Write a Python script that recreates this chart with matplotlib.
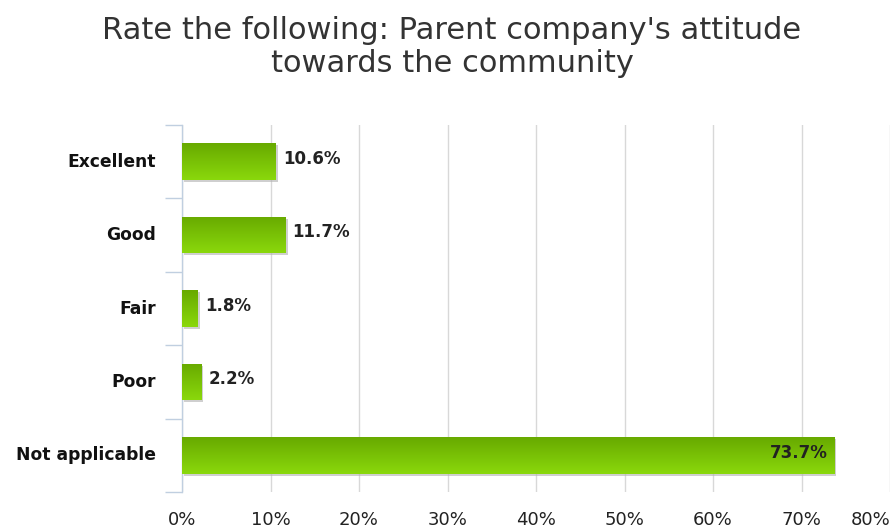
import matplotlib
matplotlib.use("Agg")
import matplotlib.pyplot as plt
import numpy as np
from matplotlib import transforms
from matplotlib.patches import Rectangle
from matplotlib.colors import LinearSegmentedColormap

categories = ["Excellent", "Good", "Fair", "Poor", "Not applicable"]
values = [10.6, 11.7, 1.8, 2.2, 73.7]
xticks = [0, 10, 20, 30, 40, 50, 60, 70, 80]
title = "Rate the following: Parent company's attitude\ntowards the community"

plt.rcParams['font.family'] = ['DejaVu Sans']
fig = plt.figure(figsize=(8.95, 5.29), dpi=100)
ax = fig.add_axes([182/895, 1-492/529, (890-182)/895, (492-125)/529])

n = len(categories)
ypos = np.arange(n)
bar_h = 0.5
ax.set_xlim(0, 80)
ax.set_ylim(n - 0.5, -0.5)

cmap = LinearSegmentedColormap.from_list("g", ["#68aa00", "#8ad80c"])
grad = np.linspace(0, 1, 64).reshape(-1, 1)

shadow_tr = transforms.offset_copy(ax.transData, fig=fig, x=2, y=-2, units='dots')
for y, v in zip(ypos, values):
    sh = Rectangle((0, y - bar_h/2), v, bar_h, transform=shadow_tr,
                   facecolor='#b0b0b0', edgecolor='none', alpha=0.6, zorder=2)
    ax.add_patch(sh)
    im = ax.imshow(grad, cmap=cmap, aspect='auto',
                   extent=(0, v, y + bar_h/2, y - bar_h/2), zorder=3,
                   interpolation='bilinear')
    rect = Rectangle((0, y - bar_h/2), v, bar_h, facecolor='none',
                     edgecolor='none', zorder=3)
    ax.add_patch(rect)
    im.set_clip_path(rect)
    if v > 50:
        ax.annotate(f"{v}%", (v, y), xytext=(-5, 2), textcoords='offset points',
                    ha='right', va='center', fontsize=12, fontweight='bold',
                    color='#222222', zorder=5)
    else:
        ax.annotate(f"{v}%", (v, y), xytext=(5, 2), textcoords='offset points',
                    ha='left', va='center', fontsize=12, fontweight='bold',
                    color='#222222', zorder=5)

ax.set_xticks(xticks)
ax.set_xticklabels([f"{t}%" for t in xticks], fontsize=13, color='#222222')
ax.get_xticklabels()[-1].set_ha('right')
ax.tick_params(axis='x', length=0, pad=14)
ax.grid(axis='x', color='#d8d8d8', linewidth=1, zorder=0)
ax.set_axisbelow(True)

ax.set_yticks(np.arange(n + 1) - 0.5)
ax.set_yticklabels([])
ax.tick_params(axis='y', which='major', length=12, width=1, color='#c0cfe0')
ax.set_yticks(ypos, minor=True)
ax.set_yticklabels(categories, minor=True, fontsize=12.3, fontweight='bold',
                   color='#111111', va='center')
ax.tick_params(axis='y', which='minor', length=0, pad=18.5)

for s in ['top', 'right', 'bottom']:
    ax.spines[s].set_visible(False)
ax.spines['left'].set_color('#c0cfe0')
ax.spines['left'].set_linewidth(1)

fig.text(452/895, 1-47/529, title, ha='center', va='center', fontsize=22,
         color='#333333', linespacing=1.2)

fig.savefig("out.png", dpi=100, facecolor='white')
